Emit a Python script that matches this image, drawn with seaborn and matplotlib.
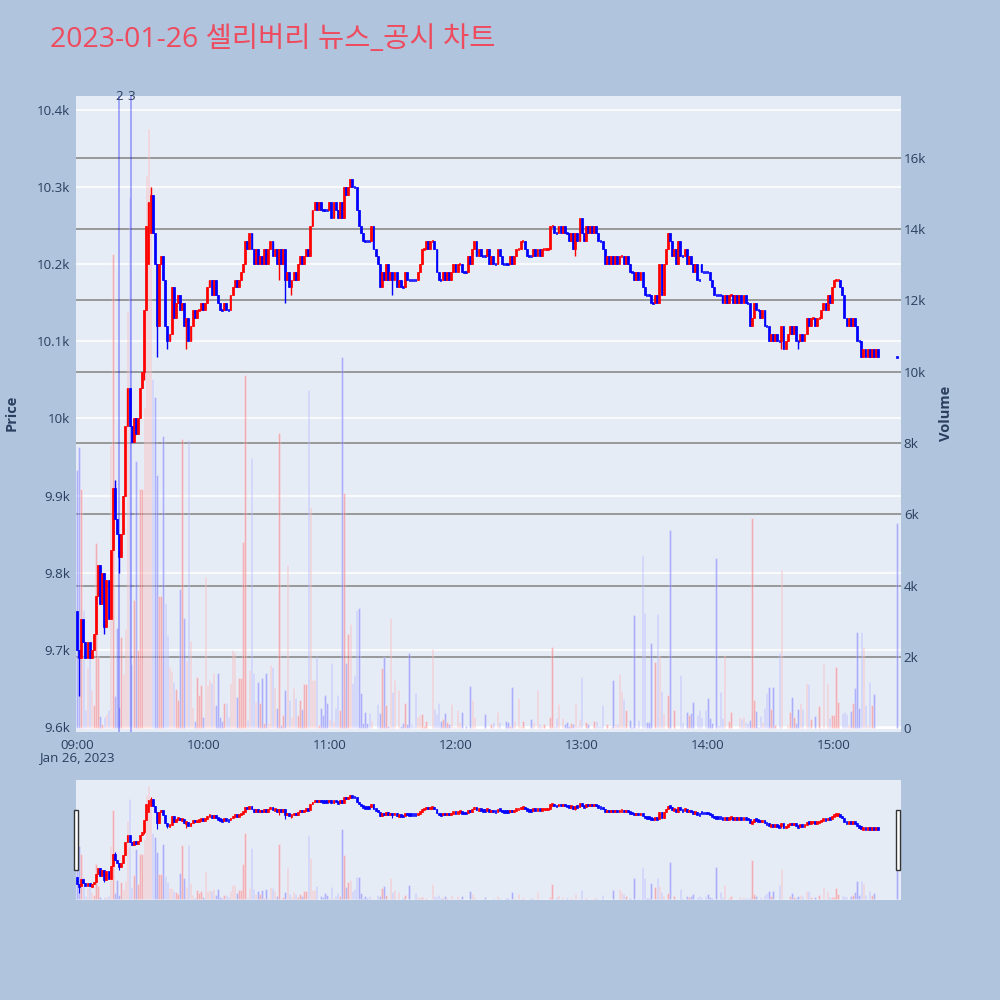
import numpy as np
import pandas as pd
import matplotlib
matplotlib.use("Agg")
import matplotlib.pyplot as plt
import matplotlib.transforms as mtrans
from matplotlib.patches import Rectangle
import seaborn as sns

sns.set_theme(style="white")
plt.rcParams['font.family'] = ['Open Sans', 'Noto Sans CJK KR', 'DejaVu Sans']

# ---------------- data ----------------
TITLE = "2023-01-26 셀리버리 뉴스_공시 차트"
x_tick_minutes = [0, 60, 120, 180, 240, 300, 360]
x_tick_labels = ["09:00", "10:00", "11:00", "12:00", "13:00", "14:00", "15:00"]
date_label = "Jan 26, 2023"
price_ticks = [9600, 9700, 9800, 9900, 10000, 10100, 10200, 10300, 10400]
price_tick_labels = ["9.6k", "9.7k", "9.8k", "9.9k", "10k", "10.1k", "10.2k", "10.3k", "10.4k"]
volume_ticks = [0, 2000, 4000, 6000, 8000, 10000, 12000, 14000, 16000]
volume_tick_labels = ["0", "2k", "4k", "6k", "8k", "10k", "12k", "14k", "16k"]
news_minutes = [20.0, 25.7]
news_labels = ["2", "3"]

# minutes after 09:00 (one candle per minute, closing auction at 15:30)
minutes = list(range(382)) + [390]

close = [
    9700, 9690, 9740, 9710, 9690, 9710, 9690, 9700, 9720, 9770,
    9810, 9760, 9800, 9730, 9790, 9740, 9830, 9910, 9870, 9850,
    9820, 9850, 9900, 9990, 10040, 9990, 9970, 10000, 9980, 10000,
    10040, 10060, 10140, 10250, 10280, 10290, 10240, 10200, 10120, 10200,
    10210, 10180, 10120, 10100, 10110, 10170, 10130, 10150, 10160, 10140,
    10150, 10120, 10130, 10100, 10120, 10140, 10130, 10140, 10140, 10150,
    10140, 10150, 10170, 10180, 10160, 10180, 10160, 10150, 10140, 10140,
    10150, 10140, 10140, 10160, 10170, 10180, 10170, 10180, 10190, 10200,
    10230, 10220, 10240, 10220, 10200, 10220, 10200, 10210, 10200, 10220,
    10200, 10220, 10230, 10210, 10220, 10200, 10220, 10200, 10220, 10180,
    10190, 10170, 10180, 10190, 10180, 10200, 10210, 10200, 10210, 10220,
    10210, 10250, 10270, 10280, 10270, 10280, 10270, 10270, 10270, 10270,
    10280, 10260, 10280, 10270, 10260, 10280, 10260, 10300, 10290, 10300,
    10310, 10300, 10300, 10270, 10250, 10240, 10230, 10230, 10230, 10230,
    10250, 10220, 10210, 10200, 10170, 10190, 10180, 10200, 10180, 10190,
    10180, 10190, 10170, 10180, 10170, 10170, 10190, 10180, 10180, 10180,
    10180, 10180, 10190, 10200, 10220, 10220, 10230, 10220, 10230, 10230,
    10220, 10190, 10180, 10180, 10190, 10180, 10190, 10180, 10190, 10200,
    10190, 10200, 10200, 10190, 10190, 10190, 10210, 10200, 10220, 10230,
    10210, 10220, 10210, 10210, 10210, 10220, 10200, 10210, 10200, 10200,
    10220, 10210, 10200, 10200, 10200, 10200, 10210, 10200, 10210, 10220,
    10220, 10230, 10230, 10220, 10210, 10210, 10210, 10220, 10210, 10220,
    10210, 10220, 10220, 10220, 10220, 10250, 10250, 10240, 10240, 10250,
    10240, 10250, 10240, 10240, 10230, 10240, 10220, 10240, 10230, 10260,
    10240, 10230, 10250, 10240, 10250, 10240, 10250, 10240, 10230, 10230,
    10220, 10200, 10210, 10200, 10210, 10200, 10210, 10200, 10210, 10210,
    10200, 10210, 10200, 10190, 10190, 10180, 10190, 10180, 10190, 10170,
    10160, 10160, 10160, 10150, 10150, 10160, 10150, 10200, 10160, 10200,
    10220, 10240, 10230, 10210, 10220, 10200, 10230, 10210, 10210, 10220,
    10200, 10210, 10200, 10190, 10200, 10180, 10180, 10190, 10190, 10190,
    10190, 10180, 10170, 10160, 10160, 10160, 10160, 10150, 10160, 10150,
    10160, 10160, 10150, 10160, 10150, 10160, 10150, 10160, 10150, 10150,
    10120, 10130, 10150, 10140, 10140, 10130, 10140, 10120, 10120, 10100,
    10110, 10100, 10110, 10100, 10100, 10120, 10090, 10100, 10110, 10120,
    10110, 10120, 10100, 10100, 10110, 10100, 10110, 10130, 10120, 10130,
    10130, 10120, 10130, 10130, 10140, 10150, 10140, 10160, 10150, 10170,
    10180, 10180, 10180, 10170, 10160, 10130, 10120, 10130, 10120, 10130,
    10120, 10100, 10100, 10080, 10090, 10080, 10090, 10080, 10090, 10080,
    10090, 10080,
    10080,
]

open_overrides = {0: 9750, 34: 10200, 35: 10240, 297: 10200}
high_wicks = {18: 9920, 35: 10300}
low_wicks = {1: 9640, 13: 9720, 20: 9800, 32: 10050, 38: 10080, 43: 10090,
             52: 10090, 96: 10180, 99: 10150, 102: 10160, 150: 10160,
             237: 10210, 335: 10090, 343: 10090}

volume = [
    7250, 7900, 6700, 3300, 500, 1700, 2000, 1070, 650, 5200,
    2000, 330, 100, 300, 400, 500, 7950, 13300, 900, 2800,
    600, 2560, 1530, 2770, 11700, 14900, 1800, 3600, 7500, 2200,
    6700, 6700, 9000, 15500, 16800, 15200, 9800, 9300, 7100, 3700,
    3700, 8200, 3500, 2600, 1700, 1600, 1300, 1100, 800, 3900,
    8100, 3100, 1880, 8090, 2430, 600, 200, 1440, 930, 1210,
    300, 4250, 1210, 1350, 1250, 1540, 650, 1540, 300, 200,
    690, 690, 300, 1250, 2190, 2140, 880, 1400, 1400, 5230,
    9900, 220, 1630, 7570, 1540, 740, 1300, 710, 1400, 130,
    1540, 130, 1770, 1700, 1160, 550, 8280, 80, 370, 1070,
    4580, 790, 320, 1110, 830, 370, 790, 530, 1240, 1240,
    9500, 6200, 1350, 1350, 2000, 80, 550, 370, 930, 700,
    250, 1830, 200, 550, 930, 500, 10400, 6600, 1820, 2640,
    2920, 1260, 1490, 3310, 3370, 980, 140, 450, 140, 420,
    200, 0, 0, 670, 420, 1680, 2000, 650, 60, 3100,
    1020, 1350, 0, 1070, 60, 150, 700, 100, 2100, 100,
    50, 980, 310, 370, 390, 50, 200, 0, 0, 2220,
    530, 390, 700, 200, 250, 420, 170, 100, 670, 30,
    30, 500, 170, 450, 0, 50, 0, 1180, 790, 310,
    0, 0, 0, 0, 390, 0, 0, 100, 170, 0,
    460, 170, 0, 0, 200, 170, 50, 1150, 200, 0,
    840, 50, 200, 0, 0, 0, 250, 170, 0, 1070,
    100, 50, 100, 0, 0, 310, 2280, 50, 280, 660,
    0, 280, 100, 170, 50, 140, 100, 710, 50, 250,
    1430, 0, 170, 100, 0, 0, 200, 200, 60, 70,
    650, 0, 100, 0, 20, 1350, 100, 100, 1520, 1040,
    810, 500, 0, 220, 40, 3170, 40, 230, 10, 4860,
    3230, 170, 170, 2390, 0, 1850, 3200, 2030, 1040, 420,
    0, 930, 5560, 0, 500, 0, 0, 1490, 180, 0,
    460, 370, 420, 730, 0, 370, 500, 300, 0, 500,
    840, 280, 140, 0, 4770, 90, 1010, 280, 2050, 0,
    200, 460, 0, 10, 0, 310, 250, 310, 180, 140,
    220, 5900, 790, 480, 40, 340, 180, 560, 980, 1160,
    530, 1160, 80, 0, 2100, 4440, 0, 0, 90, 460,
    870, 310, 140, 530, 700, 530, 0, 1270, 1230, 260,
    0, 350, 0, 620, 0, 1800, 0, 1270, 280, 370,
    370, 1720, 730, 0, 430, 460, 390, 90, 490, 700,
    1120, 2700, 560, 2700, 2280, 650, 90, 1300, 650, 950,
    0, 0,
    5750,
]

# ---------------- derived OHLC table ----------------
opens, highs, lows, dirs = [], [], [], []
prev_close, prev_dir = None, "down"
for i, m in enumerate(minutes):
    c = close[i]
    o = open_overrides.get(m, prev_close if prev_close is not None else c)
    h = max(o, c, high_wicks.get(m, c))
    lo = min(o, c, low_wicks.get(m, c))
    if c > o:
        d = "up"
    elif c < o:
        d = "down"
    else:
        d = prev_dir
    opens.append(o); highs.append(h); lows.append(lo); dirs.append(d)
    prev_close, prev_dir = c, d

df = pd.DataFrame({"minute": minutes, "open": opens, "high": highs,
                   "low": lows, "close": close, "volume": volume, "dir": dirs})

UP, DOWN = "#FF0000", "#0000FF"
PAL = {"up": UP, "down": DOWN}
BG = "#B0C4DE"
PLOT_BG = "#E5ECF6"
TXT = "#2a3f5f"
FS = 9.6

XLIM = (-0.48, 391.9)
PLIM = (9593.5, 10418)
VLIM = (-112, 17740)


def draw_candles(axc, min_h, lw_wick, width, flat_width):
    cols = [PAL[d] for d in df["dir"]]
    axc.vlines(df["minute"], df["low"], df["high"], colors=cols, lw=lw_wick, zorder=3)
    bottoms = np.minimum(df["open"], df["close"]).astype(float)
    heights = np.abs(df["close"] - df["open"]).astype(float)
    flat = heights == 0
    small = heights < min_h
    bottoms = np.where(small, bottoms - (min_h - heights) / 2, bottoms)
    heights = np.maximum(heights, min_h)
    widths = np.where(flat, flat_width, width)
    axc.bar(df["minute"], heights, bottom=bottoms, width=widths, color=cols,
            edgecolor=cols, linewidth=0.5, zorder=4)


def draw_volume(axv):
    sns.barplot(data=df, x="minute", y="volume", hue="dir", palette=PAL,
                native_scale=True, width=0.72, dodge=False, legend=False,
                saturation=1, alpha=0.3, errorbar=None, ax=axv)
    axv.set_xlabel("")
    axv.set_ylabel("")


fig = plt.figure(figsize=(10, 10), dpi=100)
fig.patch.set_facecolor(BG)

L, W = 0.076, 0.825
# ---------------- main chart ----------------
ax = fig.add_axes([L, 0.268, W, 0.636])
ax.set_facecolor(PLOT_BG)
ax.set_xlim(*XLIM)
ax.set_ylim(*PLIM)
ax.set_yticks(price_ticks, price_tick_labels)
ax.set_xticks(x_tick_minutes, x_tick_labels)
for p in price_ticks:
    ax.axhline(p, color="white", lw=1.1, zorder=0.5)
ax.tick_params(axis="y", length=0, pad=4, labelsize=FS, labelcolor=TXT)
ax.tick_params(axis="x", length=0, pad=5, labelsize=FS, labelcolor=TXT)
for s in ax.spines.values():
    s.set_visible(False)

axv = ax.twinx()
axv.set_ylim(*VLIM)
axv.set_axisbelow(True)
for v in volume_ticks[1:]:
    axv.axhline(v, color="#8a8a8a", lw=1.2, zorder=0.6)
axv.axhline(0, color="white", lw=1.5, zorder=0.6)
draw_volume(axv)
axv.set_xlim(*XLIM)
axv.set_ylim(*VLIM)
axv.set_yticks(volume_ticks, volume_tick_labels)
axv.tick_params(axis="y", length=0, pad=2, labelsize=FS, labelcolor=TXT)
for s in axv.spines.values():
    s.set_visible(False)

axc = ax.twinx()
axc.set_ylim(*PLIM)
axc.set_xlim(*XLIM)
draw_candles(axc, min_h=2.6, lw_wick=1.0, width=0.9, flat_width=0.6)
axc.axis("off")

trans = mtrans.blended_transform_factory(axc.transData, axc.transAxes)
for m, lab in zip(news_minutes, news_labels):
    axc.axvline(m, color=(0.0, 0.0, 1.0, 0.3), lw=1.4, zorder=5)
    axc.text(m, 1.0, lab, transform=trans, ha="center", va="center",
             fontsize=FS, color=TXT, zorder=6)

fig.text(0.077, 0.242, date_label, ha="center", va="center", fontsize=FS, color=TXT)
fig.text(0.012, 0.587, "Price", rotation=90, ha="center", va="center",
         fontsize=10.5, fontweight="bold", color=TXT)
fig.text(0.946, 0.587, "Volume", rotation=90, ha="center", va="center",
         fontsize=10.5, fontweight="bold", color=TXT)
fig.text(0.05, 0.960, TITLE, ha="left", va="center", fontsize=20.5, color="#EE4B5E")

# ---------------- range slider ----------------
axs = fig.add_axes([L, 0.100, W, 0.120])
axs.set_facecolor(PLOT_BG)
draw_volume(axs)
axs.set_xlim(*XLIM)
axs.set_ylim(*VLIM)
axs.set_xticks([]); axs.set_yticks([])
for s in axs.spines.values():
    s.set_visible(False)
axsc = axs.twinx()
axsc.set_xlim(*XLIM)
axsc.set_ylim(*PLIM)
draw_candles(axsc, min_h=18, lw_wick=0.8, width=0.9, flat_width=0.8)
axsc.axis("off")

for hx in (0.0735, 0.8955):
    fig.patches.append(Rectangle((hx, 0.130), 0.004, 0.060, transform=fig.transFigure,
                                 facecolor="white", edgecolor="#333333", lw=1.0))

fig.savefig("out.png", dpi=100, facecolor=BG)
